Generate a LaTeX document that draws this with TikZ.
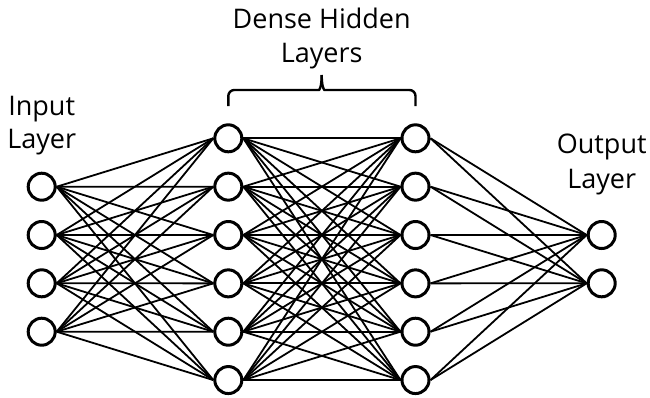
\documentclass[tikz,border=0pt]{standalone}
\usepackage{fontspec}
\setmainfont{Open Sans}
\begin{document}
\begin{tikzpicture}[x=1bp,y=-1bp,
  neuron/.style={circle,draw=black,line width=3bp,minimum size=27bp,inner sep=0pt,fill=white},
  link/.style={line width=1.8bp,black},
  lbl/.style={anchor=base,inner sep=0pt,font=\fontsize{27bp}{32bp}\selectfont},
  bracket/.style={line width=2.4bp,rounded corners=6bp}]
  \useasboundingbox (0,0) rectangle (650,397);

  % input layer
  \foreach \k/\y in {1/186.7,2/235,3/283.3,4/331.7}
    \node[neuron] (i\k) at (41.7,\y) {};
  % two dense hidden layers
  \foreach \k in {1,...,6}{
    \node[neuron] (h\k) at (228.3,{138.3+(\k-1)*48.35}) {};
    \node[neuron] (g\k) at (415.5,{138.3+(\k-1)*48.35}) {};
  }
  % output layer
  \node[neuron] (o1) at (601.7,235) {};
  \node[neuron] (o2) at (601.7,283.3) {};

  % fully connected links
  \foreach \a in {1,...,4}
    \foreach \b in {1,...,6}
      \draw[link] (i\a.east) -- (h\b.west);
  \foreach \a in {1,...,6}
    \foreach \b in {1,...,6}
      \draw[link] (h\a.east) -- (g\b.west);
  \foreach \a in {1,...,6}
    \foreach \b in {1,2}
      \draw[link] (g\a.east) -- (o\b.west);

  % labels
  \node[lbl] (inA) at (41.7,115) {Input};
  \node[lbl] (inB) at (41.7,148) {Layer};
  \node[lbl] (hdA) at (321.7,28) {Dense Hidden};
  \node[lbl] (hdB) at (321.7,62) {Layers};
  \node[lbl] (outA) at (601.7,153) {Output};
  \node[lbl] (outB) at (601.7,188) {Layer};

  % brace over the hidden layers
  \coordinate (bl) at (228.3,106);
  \coordinate (br) at (415.5,106);
  \coordinate (tip) at (321.7,75);
  \draw[bracket] (bl) -- (228.3,90) -- (313,90) .. controls (319,90) and (321.7,88) .. (tip);
  \draw[bracket] (br) -- (415.5,90) -- (330.4,90) .. controls (324.4,90) and (321.7,88) .. (tip);
\end{tikzpicture}
\end{document}
